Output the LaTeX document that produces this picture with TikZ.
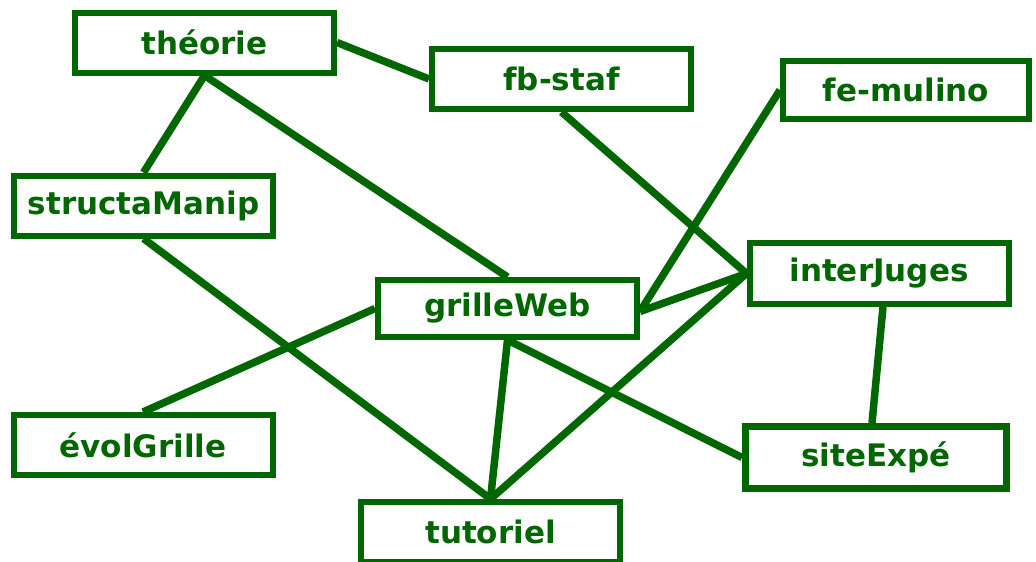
\documentclass[tikz,border=0pt]{standalone}
\usepackage{fontspec}
\newfontfamily\lblfont{DejaVu Sans}
\usetikzlibrary{backgrounds}
\definecolor{dgreen}{RGB}{0,102,0}
\tikzset{
  box/.style={draw=dgreen, line width=6pt, fill=white, rectangle,
    minimum width=259pt, minimum height=60pt, inner sep=0pt,
    text=dgreen, font=\lblfont\bfseries\fontsize{31}{36}\selectfont},
  link/.style={draw=dgreen, line width=7.5pt}
}
\begin{document}
\begin{tikzpicture}[x=1pt,y=-1pt]
\useasboundingbox (0,0) rectangle (1036,562);
\node[box] (theorie) at (204.5,42.5) {théorie};
\node[box] (fbstaf) at (561.5,79) {fb-staf};
\node[box, minimum width=246pt, minimum height=58pt] (femulino) at (906,90) {fe-mulino};
\node[box] (structa) at (143.5,205.5) {structaManip};
\node[box, minimum height=61pt] (inter) at (879,273.5) {interJuges};
\node[box, minimum height=57pt] (grille) at (507.5,308.5) {grilleWeb};
\node[box] (evol) at (143,445) {évolGrille};
\node[box, line width=7pt, minimum width=261pt, minimum height=62pt] (site) at (876,457.5) {siteExpé};
\node[box] (tuto) at (490.5,532) {tutoriel};
\begin{scope}[on background layer]
\draw[link] (theorie.east) -- (fbstaf.west);
\draw[link] (theorie.south) -- (structa.north);
\draw[link] (theorie.south) -- (grille.north);
\draw[link] (structa.south) -- (tuto.north);
\draw[link] (fbstaf.south) -- (inter.west);
\draw[link] (femulino.west) -- ([yshift=-3pt]grille.east);
\draw[link] ([yshift=-3pt]grille.east) -- (inter.west);
\draw[link] (inter.west) -- (tuto.north);
\draw[link] (grille.west) -- (evol.north);
\draw[link] (grille.south) -- (tuto.north);
\draw[link] (grille.south) -- (site.west);
\draw[link] ([xshift=4pt]inter.south) -- ([xshift=-4pt]site.north);
\end{scope}
\end{tikzpicture}
\end{document}
